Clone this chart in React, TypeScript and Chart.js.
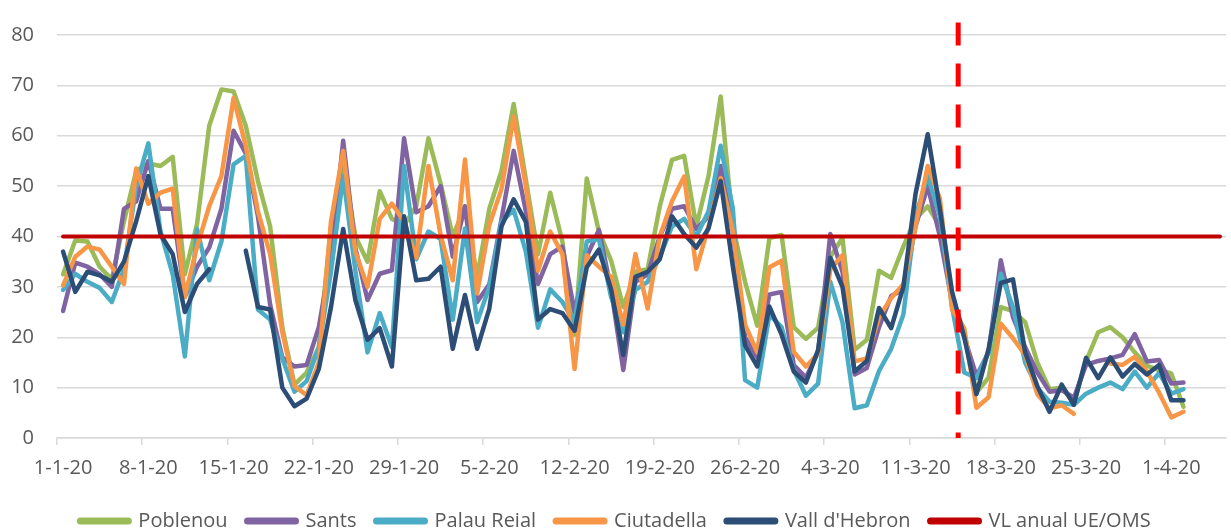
import { useEffect, useRef } from 'react';
import { Chart, registerables } from 'chart.js';

Chart.register(...registerables);

// Daily categories (1-1-20 … 5-4-20)
const dates: string[] = [
  '1-1-20', '2-1-20', '3-1-20', '4-1-20', '5-1-20', '6-1-20', '7-1-20', '8-1-20', '9-1-20', '10-1-20',
  '11-1-20', '12-1-20', '13-1-20', '14-1-20', '15-1-20', '16-1-20', '17-1-20', '18-1-20', '19-1-20', '20-1-20',
  '21-1-20', '22-1-20', '23-1-20', '24-1-20', '25-1-20', '26-1-20', '27-1-20', '28-1-20', '29-1-20', '30-1-20', '31-1-20',
  '1-2-20', '2-2-20', '3-2-20', '4-2-20', '5-2-20', '6-2-20', '7-2-20', '8-2-20', '9-2-20', '10-2-20',
  '11-2-20', '12-2-20', '13-2-20', '14-2-20', '15-2-20', '16-2-20', '17-2-20', '18-2-20', '19-2-20', '20-2-20',
  '21-2-20', '22-2-20', '23-2-20', '24-2-20', '25-2-20', '26-2-20', '27-2-20', '28-2-20', '29-2-20',
  '1-3-20', '2-3-20', '3-3-20', '4-3-20', '5-3-20', '6-3-20', '7-3-20', '8-3-20', '9-3-20', '10-3-20',
  '11-3-20', '12-3-20', '13-3-20', '14-3-20', '15-3-20', '16-3-20', '17-3-20', '18-3-20', '19-3-20', '20-3-20',
  '21-3-20', '22-3-20', '23-3-20', '24-3-20', '25-3-20', '26-3-20', '27-3-20', '28-3-20', '29-3-20', '30-3-20', '31-3-20',
  '1-4-20', '2-4-20', '3-4-20', '4-4-20', '5-4-20',
];

const tickLabels: string[] = [
  '1-1-20', '8-1-20', '15-1-20', '22-1-20', '29-1-20', '5-2-20', '12-2-20',
  '19-2-20', '26-2-20', '4-3-20', '11-3-20', '18-3-20', '25-3-20', '1-4-20',
];

const poblenou: (number | null)[] = [
  32.5, 39.2, 39, 34, 31.5, 43, 53, 54.5, 54, 55.8,
  32.5, 42.5, 62, 69.2, 68.8, 62, 51, 42, 22, 10.6,
  13, 18, 42, 55, 40, 35, 49, 43.5, 42.3, 46,
  59.5, 50.5, 40, 46, 32, 45.5, 53, 66.3, 51.3, 36.5,
  48.7, 39, 20.5, 51.5, 41, 35.2, 26, 33, 33.5, 46,
  55.2, 56, 42, 52, 67.8, 42, 31, 22.3, 39.7, 40.3,
  22, 19.7, 21.9, 36, 39.7, 17.5, 19.5, 33.2, 31.8, 38,
  43.5, 46, 42, 28, 21, 9, 12, 26, 25.2, 23,
  15, 9.7, 10, 7, 15.2, 21, 22, 20, 17, 14.3,
  13.5, 12.8, 6.2,
];

const sants: (number | null)[] = [
  25.2, 34.8, 34, 32.5, 30, 45.5, 47, 55, 45.5, 45.5,
  28, 34, 37.8, 45.5, 61, 56.5, 44, 26.5, 16, 14.2,
  14.5, 22, 36, 59, 37.7, 27.4, 32.6, 33.3, 59.5, 44.8,
  46, 50, 36, 46, 27, 30.5, 43.5, 57, 45, 30.6,
  36.5, 38, 25, 36, 41.3, 29.5, 13.5, 31, 32.5, 40,
  45.5, 46, 41.5, 44, 54, 41, 20, 16, 28.5, 29,
  14.5, 12, 17, 40.5, 33, 12.6, 13.9, 22, 28.2, 29.5,
  42, 50, 40, 27, 20, 12.3, 17, 35.3, 24, 18,
  13, 9.2, 9.5, 8, 14.5, 15.3, 15.8, 16.5, 20.6, 15.2,
  15.5, 10.8, 11,
];

const palauReial: (number | null)[] = [
  29.4, 32.6, 31, 29.8, 27, 33.5, 50, 58.5, 41, 32.5,
  16.2, 41.5, 31.3, 39, 54.3, 56, 25.5, 23.5, 15.8, 9.2,
  11.3, 18, 33, 52, 33.2, 17, 24.8, 18, 54, 35.5,
  41, 39.5, 23.5, 41.6, 23, 30, 42.9, 45.3, 37, 21.9,
  29.5, 27, 23, 39, 39.5, 28, 21, 29.4, 31, 36,
  42, 43.5, 40, 45, 58, 45.5, 11.5, 10, 24.5, 22,
  13.5, 8.4, 10.8, 31, 23, 5.9, 6.5, 13.3, 17.7, 24.5,
  44, 52, 44, 26, 13, 11.9, 17, 32.6, 26, 15,
  10, 7.2, 7, 6.6, 8.8, 10, 11, 9.7, 13.2, 10,
  12.9, 8.8, 9.7,
];

const ciutadella: (number | null)[] = [
  30.3, 36, 38, 37.4, 34, 30.6, 53.5, 46.5, 48.7, 49.5,
  28, 38, 46, 52, 67.5, 58, 45, 36.5, 21, 10.3,
  8.5, 15, 43, 57, 37, 30, 43.5, 46.5, 43, 35.8,
  54, 40.3, 31.3, 55.3, 28.7, 42.3, 49.4, 63.8, 50, 33.2,
  41, 36.5, 13.7, 36.3, 34, 32, 22.5, 36.5, 25.7, 40,
  47, 51.9, 33.5, 42, 51.6, 41, 22.5, 17, 33.9, 35.2,
  17.1, 14.2, 16.7, 33.5, 36.3, 15.2, 15.8, 24, 27.8, 30.5,
  42, 54, 47.5, 25.5, 21.8, 6, 8.1, 22.7, 19.8, 16.5,
  8.7, 5.9, 6.5, 4.8, null, null, 14.8, 14.5, 16.1, 13.2,
  9, 4.1, 5.2,
];

const vallHebron: (number | null)[] = [
  37, 29, 33, 32.3, 31, 35, 43, 52, 40.4, 36.5,
  25, 30.6, 33.5, null, null, 37.2, 26, 25.5, 10, 6.3,
  7.8, 13.7, 26, 41.5, 27.4, 19.5, 21.8, 14.2, 44, 31.3,
  31.6, 34, 17.7, 28.4, 17.7, 25.7, 42, 47.4, 42.9, 23.5,
  25.6, 24.8, 21.3, 33.9, 37.4, 29.5, 16.5, 32, 33, 35.5,
  44, 40.5, 37.8, 41.6, 51, 34, 18.4, 14.2, 26.1, 20.5,
  13.2, 11, 17.5, 35.8, 30, 13.2, 15.3, 25.8, 21.8, 30,
  48.5, 60.3, 45.5, 29, 20, 8.7, 17.7, 30.8, 31.5, 17,
  10.3, 5.2, 10.6, 6.6, 15.9, 11.9, 16, 12.2, 14.7, 12.6,
  14.5, 7.5, 7.5,
];

// EU/WHO annual limit value
const vlLimit = 40;

// State of alarm marker: boundary between 14-3-20 and 15-3-20 (category index units)
const lockdownIndex = 73.5;
const lockdownTop = 82.5;

const seriesNames = ['Poblenou', 'Sants', 'Palau Reial', 'Ciutadella', "Vall d'Hebron", 'VL anual UE/OMS'];
const seriesColors = ['#9BBB59', '#8064A2', '#4BACC6', '#F79646', '#2C4D75', '#C00000'];

export default function App() {
  const ref = useRef<HTMLCanvasElement>(null);

  useEffect(() => {
    const canvas = ref.current;
    if (!canvas) return;
    const textColor = '#595959';
    const gridColor = '#D9D9D9';
    const font = { family: "'Open Sans', sans-serif", size: 20 };
    const stations = [poblenou, sants, palauReial, ciutadella, vallHebron];

    const lineDs = (i: number, data: (number | null)[], width: number) => ({
      type: 'line' as const,
      label: seriesNames[i],
      data,
      borderColor: seriesColors[i],
      backgroundColor: seriesColors[i],
      borderWidth: width,
      pointRadius: 0,
      pointHoverRadius: 0,
      tension: 0,
      spanGaps: false,
      borderJoinStyle: 'round' as const,
      borderCapStyle: 'round' as const,
      order: 6 - i,
    });

    const datasets: any[] = stations.map((d, i) => lineDs(i, d, 4.5));
    const vl = lineDs(5, dates.map(() => vlLimit), 4);
    vl.order = 0;
    datasets.push(vl);
    datasets.push({
      type: 'line',
      label: 'lockdown',
      xAxisID: 'x2',
      data: [
        { x: lockdownIndex, y: lockdownTop },
        { x: lockdownIndex, y: 0 },
      ],
      borderColor: '#FF0000',
      backgroundColor: '#FF0000',
      borderWidth: 5,
      borderDash: [23, 18],
      borderCapStyle: 'butt',
      pointRadius: 0,
      clip: false,
      order: -1,
    });

    const chart = new Chart(canvas, {
      type: 'line',
      data: { labels: dates, datasets },
      options: {
        animation: false,
        responsive: true,
        maintainAspectRatio: false,
        events: [],
        layout: { padding: { top: 24, left: 0, right: 0, bottom: 0 } },
        plugins: {
          tooltip: { enabled: false },
          legend: {
            position: 'bottom',
            labels: {
              font,
              color: textColor,
              usePointStyle: true,
              pointStyle: 'line',
              pointStyleWidth: 48,
              padding: 20,
              filter: (item: any) => item.datasetIndex < 6,
              sort: (a: any, b: any) => a.datasetIndex - b.datasetIndex,
              generateLabels: (c: any) =>
                (Chart.defaults.plugins.legend.labels.generateLabels as any)(c).map((l: any) => ({
                  ...l,
                  lineWidth: 7,
                  lineCap: 'round',
                  pointStyle: 'line',
                  lineDash: [],
                })),
            },
          },
        },
        scales: {
          x: {
            type: 'category',
            offset: true,
            grid: {
              offset: true,
              drawOnChartArea: false,
              tickLength: 7,
              lineWidth: 1.5,
              color: (ctx: any) => (tickLabels.includes(dates[ctx.index]) ? gridColor : 'rgba(0,0,0,0)'),
            },
            border: { color: gridColor, width: 1.5 },
            ticks: {
              autoSkip: false,
              maxRotation: 0,
              minRotation: 0,
              font,
              color: textColor,
              padding: 11,
              callback: (_v: any, i: number) => (tickLabels.includes(dates[i]) ? dates[i] : ''),
            },
            afterFit: (s: any) => {
              s.height = 53;
            },
          },
          x2: {
            type: 'linear',
            display: false,
            min: -0.5,
            max: dates.length - 0.5,
          },
          y: {
            min: 0,
            max: 80,
            ticks: { stepSize: 10, font, color: textColor, padding: 23 },
            grid: { color: gridColor, lineWidth: 1.5, drawTicks: false },
            border: { display: false },
            afterFit: (s: any) => {
              s.width = 57;
            },
          },
        },
      } as any,
    });
    return () => chart.destroy();
  }, []);

  return (
    <div
      style={{
        position: 'fixed',
        left: 0,
        top: 0,
        width: 1231,
        height: 532,
        overflow: 'hidden',
        background: '#fff',
      }}
    >
      <div style={{ position: 'relative', width: 1231, height: 541 }}>
        <canvas ref={ref} />
      </div>
    </div>
  );
}
